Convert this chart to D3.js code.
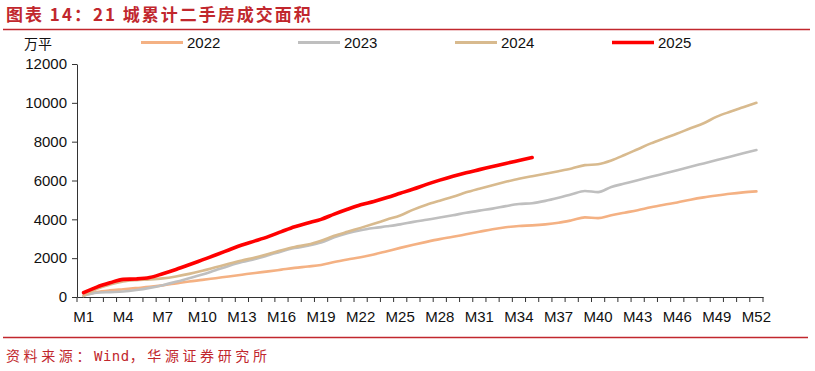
<!DOCTYPE html>
<html><head><meta charset="utf-8">
<script src="https://cdn.jsdelivr.net/npm/d3@7/dist/d3.min.js"></script>
<style>
html,body{margin:0;padding:0;background:#fff;}
svg{display:block;}
</style></head>
<body>
<svg id="c" width="815" height="371"></svg>
<script>
const weeks = d3.range(1, 53).map(i => "M" + i);
const s2022 = [90,250,340,400,460,520,600,700,800,880,
  970,1060,1150,1240,1320,1410,1500,1570,1650,1800,
  1930,2050,2190,2360,2530,2690,2840,2980,3100,3230,
  3360,3490,3590,3660,3690,3740,3820,3950,4100,4060,
  4210,4340,4470,4620,4750,4870,5010,5130,5230,5320,
  5390,5440];
const s2023 = [60,220,250,280,360,470,610,780,970,1160,
  1380,1600,1800,1960,2150,2350,2520,2640,2800,3080,
  3290,3440,3550,3640,3740,3870,3980,4090,4210,4340,
  4450,4550,4680,4790,4830,4950,5110,5290,5460,5400,
  5670,5840,6010,6190,6360,6530,6710,6880,7050,7220,
  7400,7570];
const s2024 = [60,420,640,800,870,905,960,1060,1190,1350,
  1530,1710,1880,2030,2210,2410,2580,2700,2900,3150,
  3360,3560,3770,3990,4200,4500,4750,4960,5160,5390,
  5580,5760,5930,6090,6220,6350,6480,6620,6790,6840,
  7030,7310,7610,7910,8170,8420,8690,8950,9290,9540,
  9770,10000];
const s2025 = [220,510,730,910,930,1000,1200,1420,1660,1910,
  2160,2420,2680,2890,3110,3370,3620,3810,4000,4270,
  4520,4750,4920,5120,5340,5560,5800,6020,6220,6400,
  6560,6720,6880,7030,7180];
const seriesNames = ["2022","2023","2024","2025"];
const yTicks = [0,2000,4000,6000,8000,10000,12000];
const title = "图表 14：21 城累计二手房成交面积";
const unit = "万平";
const sourceParts = ["资料来源：","Wind","，华源证券研究所"];

const colors = ["#F4B183","#BFBFBF","#D8BA8E","#FF0000"];
const widths = [2.6,2.6,2.6,3.6];
const seriesData = [s2022,s2023,s2024,s2025];

const svg = d3.select("#c");
svg.append("rect").attr("width",815).attr("height",371).attr("fill","#fff");

const red = "#C1272D";
// title
svg.append("text").attr("x",6).attr("y",21)
  .attr("font-family","'Noto Sans CJK SC', sans-serif")
  .attr("font-weight","bold").attr("font-size",17).attr("letter-spacing","2px")
  .attr("fill",red).text(title);
svg.append("line").attr("x1",3).attr("x2",810).attr("y1",29.5).attr("y2",29.5)
  .attr("stroke",red).attr("stroke-width",1.6);
svg.append("line").attr("x1",3).attr("x2",808).attr("y1",337.5).attr("y2",337.5)
  .attr("stroke",red).attr("stroke-width",1.4);
const src = svg.append("text").attr("x",6).attr("y",361)
  .attr("font-family","'DejaVu Sans Mono','Noto Sans CJK SC', monospace")
  .attr("font-size",14).attr("fill",red);
src.selectAll("tspan").data(sourceParts).enter().append("tspan")
  .attr("letter-spacing",(d,i)=> i===1 ? "0.5px" : "3.6px")
  .text(d=>d);

const x = d3.scaleBand().domain(weeks).range([77,763]).paddingInner(0).paddingOuter(0);
const y = d3.scaleLinear().domain([0,12000]).range([297,64]);

// unit
svg.append("text").attr("x",24).attr("y",49)
  .attr("font-family","'Noto Sans CJK SC', sans-serif")
  .attr("font-size",14).attr("fill","#111").text(unit);

// y axis
const yAxis = svg.append("g").attr("transform","translate(77,0)")
  .call(d3.axisLeft(y).tickValues(yTicks).tickSize(5).tickSizeOuter(0).tickPadding(5).tickFormat(d3.format("d")));
yAxis.selectAll("text").attr("font-family","'Liberation Sans', Arial, sans-serif").attr("font-size",15).attr("fill","#111");
yAxis.selectAll("line,path").attr("stroke","#333");

// x axis
const xAxis = svg.append("g").attr("transform","translate(0,297)")
  .call(d3.axisBottom(x).tickValues(weeks.filter((d,i)=>i%3===0)).tickSize(0).tickPadding(14));
xAxis.select("path").attr("stroke","#333");
xAxis.selectAll("text").attr("font-family","'Liberation Sans', Arial, sans-serif").attr("font-size",15).attr("fill","#111");
const bounds = weeks.map(w => x(w)).concat([x(weeks[weeks.length-1]) + x.bandwidth()]);
xAxis.selectAll("line.bt").data(bounds).enter().append("line").attr("class","bt")
  .attr("x1",d=>d).attr("x2",d=>d).attr("y1",0).attr("y2",5).attr("stroke","#333");

// lines
const line = d3.line().x((d,i)=>x(weeks[i]) + x.bandwidth()/2).y(d=>y(d)).curve(d3.curveMonotoneX);
const g = svg.append("g");
seriesData.forEach((s,k)=>{
  g.append("path").datum(s).attr("d",line).attr("fill","none")
    .attr("stroke",colors[k]).attr("stroke-width",widths[k])
    .attr("stroke-linejoin","round").attr("stroke-linecap","round");
});

// legend
const lg = svg.append("g");
seriesNames.forEach((n,k)=>{
  const lx = 141 + k*157;
  lg.append("line").attr("x1",lx).attr("x2",lx+42).attr("y1",42.5).attr("y2",42.5)
    .attr("stroke",colors[k]).attr("stroke-width",k===3?3.6:3);
  lg.append("text").attr("x",lx+46).attr("y",48)
    .attr("font-family","'Liberation Sans', Arial, sans-serif").attr("font-size",15).attr("fill","#111").text(n);
});
</script>
</body></html>
